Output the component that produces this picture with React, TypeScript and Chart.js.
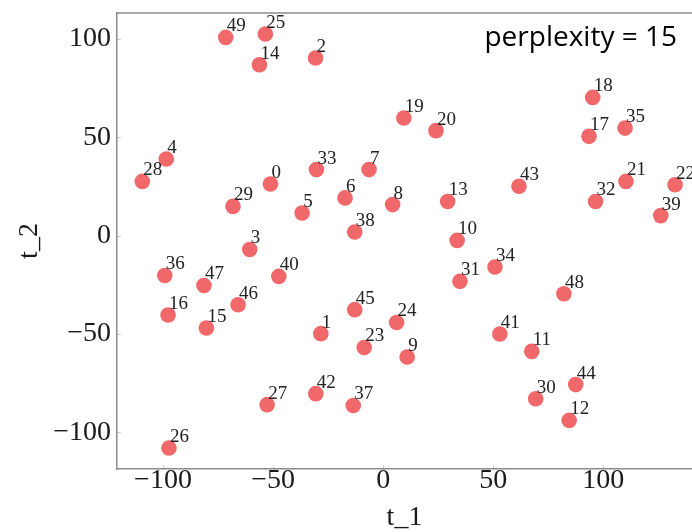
import React, { useEffect, useRef } from "react";
import { Chart, registerables } from "chart.js";

Chart.register(...registerables);

const pointIds = [
  "0", "1", "2", "3", "4", "5", "6", "7", "8", "9",
  "10", "11", "12", "13", "14", "15", "16", "17", "18", "19",
  "20", "21", "22", "23", "24", "25", "26", "27", "28", "29",
  "30", "31", "32", "33", "34", "35", "36", "37", "38", "39",
  "40", "41", "42", "43", "44", "45", "46", "47", "48", "49",
];

const t1Values = [
  -51.2, -28.3, -30.7, -60.6, -98.5, -36.8, -17.3, -6.4, 4.3, 10.9,
  33.6, 67.5, 84.5, 29.3, -56.2, -80.3, -97.7, 93.5, 95.2, 9.4,
  24.0, 110.3, 132.6, -8.6, 6.1, -53.5, -97.3, -52.7, -109.4, -68.2,
  69.3, 34.9, 96.5, -30.3, 50.8, 109.9, -99.2, -13.6, -12.9, 126.1,
  -47.4, 53.0, -30.6, 61.7, 87.5, -12.9, -65.9, -81.4, 82.1, -71.5,
];

const t2Values = [
  26.3, -49.8, 90.3, -7.0, 39.0, 11.5, 19.2, 33.6, 15.8, -61.7,
  -2.4, -58.8, -93.9, 17.4, 86.9, -46.9, -40.3, 50.5, 70.3, 59.8,
  53.4, 27.6, 25.9, -56.8, -44.1, 102.5, -107.9, -85.9, 27.6, 14.9,
  -82.9, -23.2, 17.4, 33.6, -15.9, 54.7, -20.2, -86.3, 1.9, 10.2,
  -20.7, -50.0, -80.3, 25.1, -75.7, -37.6, -35.1, -25.3, -29.5, 100.8,
];

const xTickValues = [-100, -50, 0, 50, 100];
const yTickValues = [-100, -50, 0, 50, 100];
const xTitle = "t_1";
const yTitle = "t_2";
const annotationText = "perplexity = 15";

const fmt = (v: number) => (v < 0 ? "\u2212" + Math.abs(v) : String(v));

export default function App() {
  const ref = useRef<HTMLCanvasElement>(null);

  useEffect(() => {
    if (!ref.current) return;

    const overlay = {
      id: "overlay",
      afterDatasetsDraw(chart: any) {
        const ctx = chart.ctx as CanvasRenderingContext2D;
        const a = chart.chartArea;
        ctx.save();
        // top frame line
        ctx.strokeStyle = "#8c8c8c";
        ctx.lineWidth = 1.5;
        ctx.beginPath();
        ctx.moveTo(a.left, a.top);
        ctx.lineTo(a.right, a.top);
        ctx.stroke();

        // faint inward ticks
        ctx.strokeStyle = "rgba(0,0,0,0.18)";
        ctx.lineWidth = 1;
        const xs = chart.scales.x;
        const ys = chart.scales.y;
        xTickValues.forEach((v) => {
          const px = Math.round(xs.getPixelForValue(v)) + 0.5;
          ctx.beginPath();
          ctx.moveTo(px, a.bottom);
          ctx.lineTo(px, a.bottom - 4);
          ctx.stroke();
        });
        yTickValues.forEach((v) => {
          const py = Math.round(ys.getPixelForValue(v)) + 0.5;
          ctx.beginPath();
          ctx.moveTo(a.left, py);
          ctx.lineTo(a.left + 4, py);
          ctx.stroke();
        });

        // point labels
        const meta = chart.getDatasetMeta(0);
        ctx.font = "19px 'Liberation Serif'";
        ctx.fillStyle = "#222";
        ctx.textAlign = "left";
        ctx.textBaseline = "alphabetic";
        meta.data.forEach((el: any, i: number) => {
          ctx.fillText(pointIds[i], el.x + 1, el.y - 6);
        });

        // annotation
        ctx.font = "28px 'Open Sans'";
        ctx.fillStyle = "#000";
        ctx.textAlign = "right";
        ctx.fillText(annotationText, a.right - 15, a.top + 33);

        // axis titles
        ctx.font = "28px 'Liberation Serif'";
        ctx.fillStyle = "#1a1a1a";
        ctx.textAlign = "center";
        ctx.fillText(xTitle, (a.left + a.right) / 2, 525);
        ctx.translate(37, (a.top + a.bottom) / 2);
        ctx.rotate(-Math.PI / 2);
        ctx.fillText(yTitle, 0, 0);
        ctx.restore();
      },
    };

    const chart = new Chart(ref.current, {
      type: "scatter",
      data: {
        datasets: [
          {
            data: t1Values.map((x, i) => ({ x, y: t2Values[i] })),
            backgroundColor: "rgb(241, 104, 106)",
            borderWidth: 0,
            pointRadius: 7.8,
            pointHoverRadius: 7.8,
          },
        ],
      },
      options: {
        animation: false,
        responsive: false,
        devicePixelRatio: 1,
        layout: { autoPadding: false, padding: { top: 13, left: 0, right: 0, bottom: 0 } },
        plugins: {
          legend: { display: false },
          tooltip: { enabled: false },
        },
        scales: {
          x: {
            type: "linear",
            min: -120.9,
            max: 140.3,
            grid: { display: false, drawTicks: false },
            border: { display: true, color: "#8c8c8c", width: 1.5 },
            afterBuildTicks: (scale: any) => {
              scale.ticks = xTickValues.map((value) => ({ value }));
            },
            afterFit: (scale: any) => {
              scale.height = 63;
              scale.paddingLeft = 0;
              scale.paddingRight = 0;
            },
            ticks: {
              padding: -5,
              color: "#1a1a1a",
              font: { family: "'Liberation Serif'", size: 28 },
              callback: (v: any) => fmt(Number(v)),
              maxRotation: 0,
            },
          },
          y: {
            type: "linear",
            min: -118.6,
            max: 113.2,
            grid: { display: false, drawTicks: false },
            border: { display: true, color: "#8c8c8c", width: 1.5 },
            afterBuildTicks: (scale: any) => {
              scale.ticks = yTickValues.map((value) => ({ value }));
            },
            afterFit: (scale: any) => {
              scale.width = 117;
              scale.paddingTop = 0;
              scale.paddingBottom = 0;
            },
            ticks: {
              padding: 6,
              color: "#1a1a1a",
              font: { family: "'Liberation Serif'", size: 28 },
              callback: (v: any) => fmt(Number(v)),
            },
          },
        },
      },
      plugins: [overlay],
    });

    return () => chart.destroy();
  }, []);

  return (
    <div style={{ position: "absolute", left: 0, top: 0, width: 692, height: 532 }}>
      <canvas ref={ref} width={692} height={532} />
    </div>
  );
}
